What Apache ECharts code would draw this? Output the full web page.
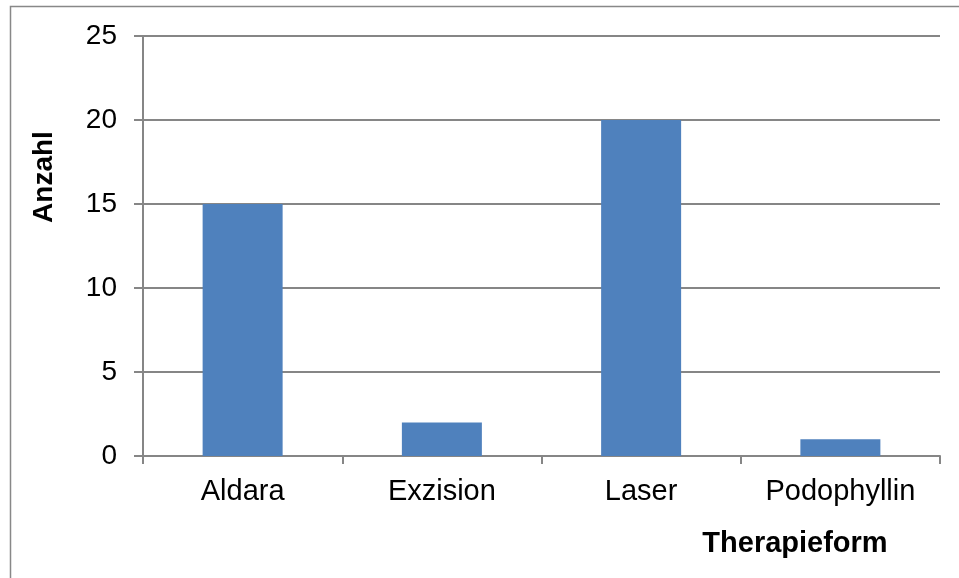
<!DOCTYPE html>
<html>
<head>
<meta charset="utf-8">
<script src="https://cdn.jsdelivr.net/npm/echarts@6/dist/echarts.min.js"></script>
<style>html,body{margin:0;padding:0;background:#fff}#c{width:959px;height:578px}</style>
</head>
<body>
<div id="c"></div>
<script>
const categories = ['Aldara', 'Exzision', 'Laser', 'Podophyllin'];
const values = [15, 2, 20, 1];
const yTicks = [0, 5, 10, 15, 20, 25];
const yTitle = 'Anzahl';
const xTitle = 'Therapieform';

const chart = echarts.init(document.getElementById('c'), null, {renderer: 'canvas'});
const font = '"Liberation Sans", Arial, sans-serif';
chart.setOption({
  animation: false,
  backgroundColor: '#fff',
  grid: {left: 143, top: 36, width: 797, height: 420, containLabel: false},
  graphic: [
    {type: 'rect', shape: {x: 10.5, y: 6.5, width: 1000, height: 700}, style: {fill: 'none', stroke: '#888', lineWidth: 1.5}, z: 0},
    {type: 'text', x: 44, y: 177, rotation: Math.PI / 2, style: {text: yTitle, font: 'bold 28px ' + font, fill: '#000', textAlign: 'center', textVerticalAlign: 'middle'}},
    {type: 'text', x: 795, y: 544, style: {text: xTitle, font: 'bold 29px ' + font, fill: '#000', textAlign: 'center', textVerticalAlign: 'middle'}}
  ],
  xAxis: {
    type: 'category',
    data: categories,
    axisLine: {lineStyle: {color: '#868686', width: 2}},
    axisTick: {show: true, length: 8, alignWithLabel: false, lineStyle: {color: '#868686', width: 2}},
    axisLabel: {color: '#000', fontSize: 29, fontFamily: font, margin: 21}
  },
  yAxis: {
    type: 'value',
    min: yTicks[0], max: yTicks[yTicks.length - 1], interval: 5,
    axisLine: {show: true, lineStyle: {color: '#868686', width: 2}},
    axisTick: {show: true, length: 9, lineStyle: {color: '#868686', width: 2}},
    splitLine: {show: true, lineStyle: {color: '#868686', width: 2}},
    axisLabel: {color: '#000', fontSize: 28, fontFamily: font, margin: 26}
  },
  series: [{
    type: 'bar',
    data: values,
    barWidth: 80,
    itemStyle: {color: '#4F81BD'}
  }]
});
</script>
</body>
</html>
